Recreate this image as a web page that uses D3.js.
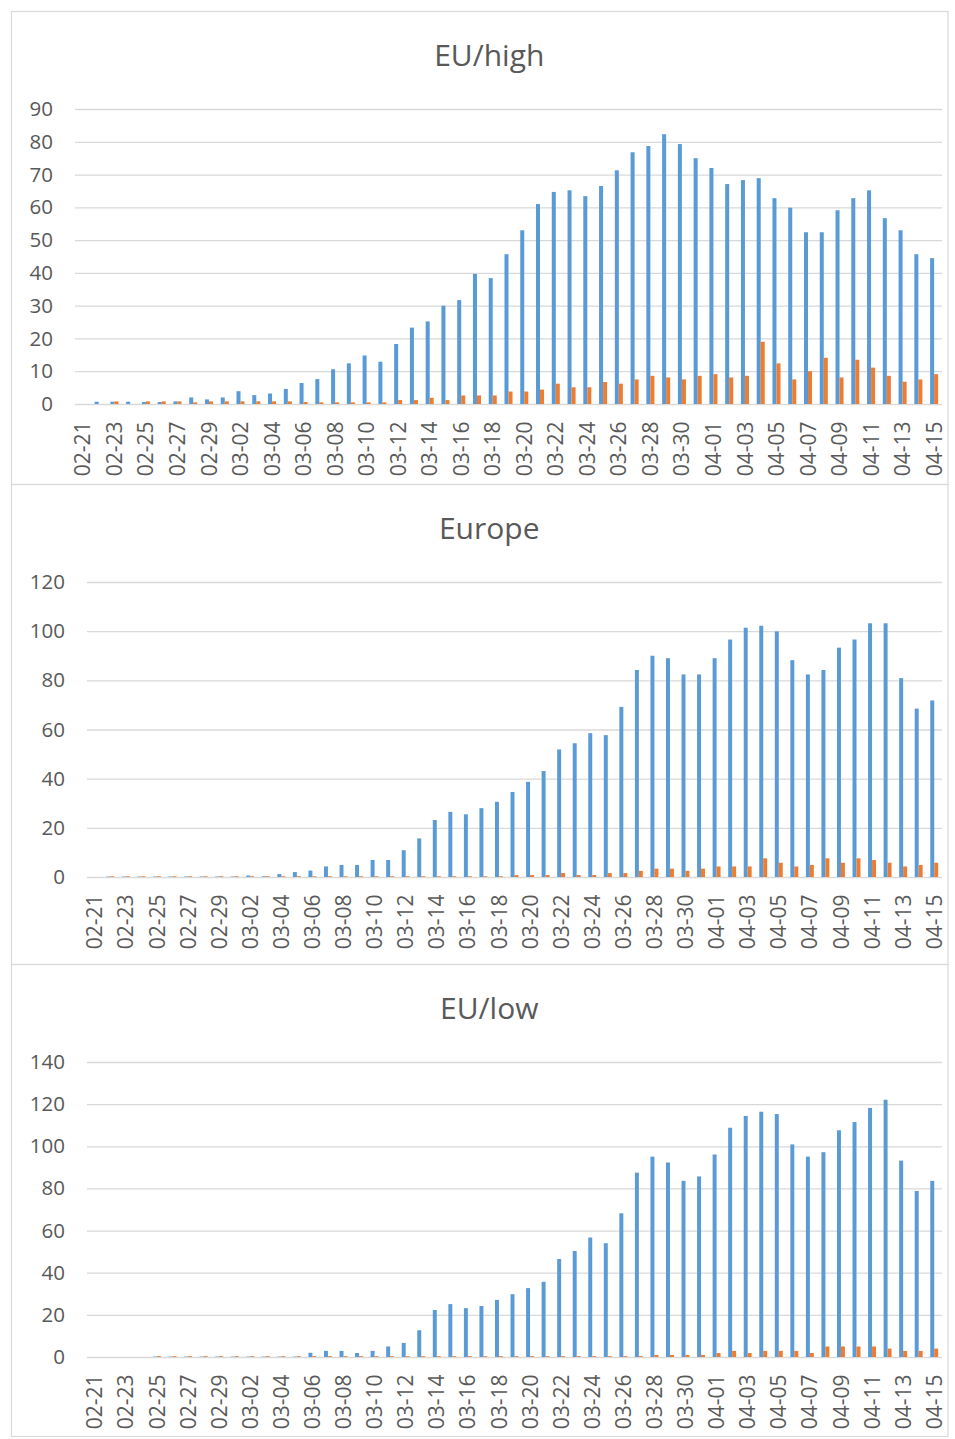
<!DOCTYPE html>
<html>
<head>
<meta charset="utf-8">
<script src="https://cdn.jsdelivr.net/npm/d3@7"></script>
<style>
  html, body { margin: 0; padding: 0; background: #fff; }
  svg { display: block; font-family: "Open Sans", "Noto Sans", sans-serif; }
</style>
</head>
<body>
<svg id="chart" width="955" height="1439"></svg>
<script>
/* ── data ─────────────────────────────────────────────────────────── */

const dates = [
  '02-21','02-22','02-23','02-24','02-25','02-26','02-27','02-28','02-29',
  '03-01','03-02','03-03','03-04','03-05','03-06','03-07','03-08','03-09','03-10',
  '03-11','03-12','03-13','03-14','03-15','03-16','03-17','03-18','03-19','03-20',
  '03-21','03-22','03-23','03-24','03-25','03-26','03-27','03-28','03-29','03-30','03-31',
  '04-01','04-02','04-03','04-04','04-05','04-06','04-07','04-08','04-09','04-10',
  '04-11','04-12','04-13','04-14','04-15'
];

const euHighBlue = [
  0, 0.7, 0.7, 0.7, 0.6, 0.6, 0.8, 2.0, 1.4, 2.0, 3.9, 2.7, 3.2, 4.6, 6.4,
  7.6, 10.6, 12.4, 14.8, 12.9, 18.3, 23.3, 25.2, 30.0, 31.7, 39.7, 38.4, 45.7, 53.0,
  61.0, 64.7, 65.2, 63.4, 66.5, 71.3, 76.8, 78.7, 82.3, 79.3, 75.0,
  72.0, 67.1, 68.3, 68.9, 62.8, 59.9, 52.4, 52.4, 59.1, 62.8, 65.2, 56.7, 53.0, 45.7, 44.5
];
const euHighOrange = [
  0, 0, 0.8, 0, 0.8, 0.8, 0.8, 0.5, 0.8, 0.8, 0.8, 0.8, 0.8, 0.8, 0.6,
  0.5, 0.5, 0.5, 0.5, 0.5, 1.2, 1.2, 1.9, 1.2, 2.6, 2.6, 2.6, 3.8, 3.8,
  4.4, 6.2, 5.1, 5.1, 6.7, 6.2, 7.5, 8.6, 8.1, 7.5, 8.6,
  9.1, 8.1, 8.6, 19.0, 12.4, 7.5, 10.0, 14.1, 8.1, 13.5, 11.1, 8.6, 6.8, 7.5, 9.1
];

const europeBlue = [
  0, 0.2, 0.2, 0.2, 0.2, 0.2, 0.2, 0.2, 0.2, 0.2, 0.6, 0.3, 1.2, 2.0, 2.6,
  4.3, 4.9, 4.9, 6.9, 6.9, 10.9, 15.7, 23.2, 26.5, 25.5, 28.0, 30.6, 34.6, 38.7,
  43.1, 51.9, 54.4, 58.5, 57.7, 69.2, 84.2, 90.0, 89.0, 82.4, 82.4,
  89.0, 96.6, 101.4, 102.2, 99.9, 88.2, 82.4, 84.2, 93.3, 96.6, 103.2, 103.2, 80.9, 68.5, 71.8
];
const europeOrange = [
  0, 0.3, 0.3, 0.3, 0.3, 0.3, 0.3, 0.3, 0.3, 0.3, 0.3, 0.3, 0.3, 0.3, 0.3,
  0.3, 0.3, 0.3, 0.3, 0.3, 0.3, 0.3, 0.3, 0.3, 0.3, 0.3, 0.3, 0.8, 0.8,
  0.8, 1.6, 0.8, 0.8, 1.6, 1.6, 2.5, 3.4, 3.4, 2.5, 3.4,
  4.3, 4.3, 4.3, 7.6, 5.8, 4.3, 4.9, 7.6, 5.8, 7.6, 6.9, 5.8, 4.3, 4.9, 5.8
];

const euLowBlue = [
  0, 0, 0, 0, 0.2, 0.2, 0.2, 0.2, 0.2, 0.2, 0.2, 0.2, 0.2, 0.2, 2.0,
  2.9, 2.9, 1.9, 2.9, 5.0, 6.7, 12.7, 22.3, 25.1, 23.2, 24.2, 27.1, 29.8, 32.7,
  35.7, 46.5, 50.3, 56.7, 54.0, 68.2, 87.5, 95.1, 92.3, 83.6, 85.7,
  96.1, 108.8, 114.4, 116.4, 115.3, 100.9, 95.1, 97.2, 107.6, 111.5, 118.2, 122.1, 93.2, 78.8, 83.6
];
const euLowOrange = [
  0, 0, 0, 0, 0.4, 0.4, 0.4, 0.4, 0.4, 0.4, 0.4, 0.4, 0.4, 0.4, 0.4,
  0.4, 0.4, 0.4, 0.4, 0.4, 0.4, 0.4, 0.4, 0.4, 0.4, 0.4, 0.4, 0.4, 0.4,
  0.4, 0.4, 0.4, 0.4, 0.4, 0.4, 0.4, 1.0, 1.0, 1.0, 1.0,
  1.9, 2.9, 1.9, 2.9, 2.9, 2.9, 1.9, 5.0, 5.0, 5.0, 5.0, 4.0, 2.9, 2.9, 4.0
];

const panels = [
  { title: 'EU/high', blue: euHighBlue, orange: euHighOrange, yMax: 90,  yStep: 10 },
  { title: 'Europe',  blue: europeBlue, orange: europeOrange, yMax: 120, yStep: 20 },
  { title: 'EU/low',  blue: euLowBlue,  orange: euLowOrange,  yMax: 140, yStep: 20 }
];

/* ── layout ───────────────────────────────────────────────────────── */

const BLUE = '#5B9BD5', ORANGE = '#ED7D31';
const GRID = '#D9D9D9', TEXT = '#595959';
const panelTops = [11, 484, 964];
const panelBottom = 1436;
const boxLeft = 11, boxRight = 947.5;
const plotLefts = [75, 87, 87];
const plotRight = 942;

const svg = d3.select('#chart');

panels.forEach((p, k) => {
  const top = panelTops[k];
  const bottom = k < 2 ? panelTops[k + 1] : panelBottom;
  const g = svg.append('g');

  // panel frame
  g.append('rect')
    .attr('x', boxLeft + 0.5).attr('y', top + 0.5)
    .attr('width', boxRight - boxLeft).attr('height', bottom - top)
    .attr('fill', 'none').attr('stroke', GRID).attr('stroke-width', 1.2);

  const y0 = top + 393, y1 = top + 98;
  const x = d3.scaleBand().domain(dates).range([plotLefts[k], plotRight]).padding(0);
  const xs = d3.scaleBand().domain(['blue', 'orange'])
    .range([0, x.bandwidth()]).paddingInner(0).paddingOuter(0.96);
  const y = d3.scaleLinear().domain([0, p.yMax]).range([y0, y1]);

  // title
  g.append('text')
    .attr('x', (boxLeft + boxRight) / 2 + 10).attr('y', top + 55)
    .attr('text-anchor', 'middle')
    .attr('font-size', 30).attr('fill', TEXT)
    .text(p.title);

  // y axis + gridlines
  const yAxis = d3.axisLeft(y)
    .tickValues(d3.range(0, p.yMax + 1, p.yStep))
    .tickSize(-(plotRight - plotLefts[k]))
    .tickPadding(22);
  const ga = g.append('g').attr('transform', `translate(${plotLefts[k]},0)`).call(yAxis);
  ga.select('.domain').remove();
  ga.selectAll('.tick line').attr('stroke', GRID).attr('stroke-width', 1.3);
  ga.selectAll('.tick text')
    .attr('font-size', 20.5).attr('fill', TEXT)
    .attr('font-family', '"Open Sans", sans-serif');

  // bars
  const rows = dates.map((d, i) => ({ date: d, blue: p.blue[i], orange: p.orange[i] }));
  const gb = g.append('g');
  gb.selectAll('rect.b').data(rows).join('rect')
    .attr('class', 'b')
    .attr('x', d => x(d.date) + xs('blue'))
    .attr('width', xs.bandwidth())
    .attr('y', d => y(d.blue))
    .attr('height', d => y0 - y(d.blue))
    .attr('fill', BLUE);
  gb.selectAll('rect.o').data(rows).join('rect')
    .attr('class', 'o')
    .attr('x', d => x(d.date) + xs('orange'))
    .attr('width', xs.bandwidth())
    .attr('y', d => y(d.orange))
    .attr('height', d => y0 - y(d.orange))
    .attr('fill', ORANGE);

  // x axis labels (every other date, rotated)
  const xAxis = d3.axisBottom(x)
    .tickValues(dates.filter((d, i) => i % 2 === 0))
    .tickSize(0).tickPadding(0);
  const gx = g.append('g').attr('transform', `translate(0,${y0})`).call(xAxis);
  gx.select('.domain').remove();
  gx.selectAll('.tick text')
    .attr('font-size', 21).attr('fill', TEXT)
    .attr('font-family', '"Open Sans", sans-serif')
    .attr('text-anchor', 'end')
    .attr('transform', 'rotate(-90)')
    .attr('x', -17.5).attr('y', 0).attr('dy', '0.36em');
});
</script>
</body>
</html>
